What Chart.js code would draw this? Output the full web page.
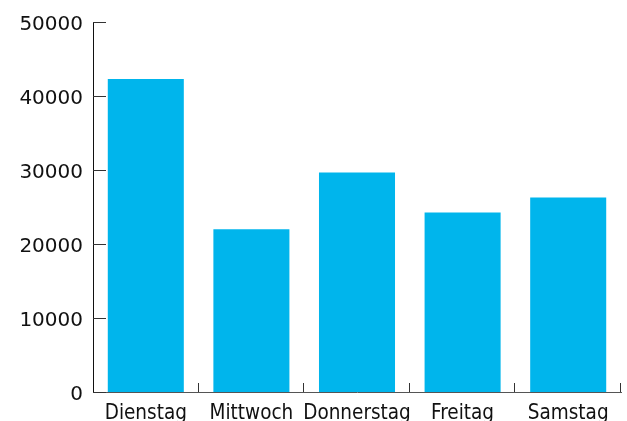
<!DOCTYPE html>
<html>
<head>
<meta charset="utf-8">
<script src="https://cdn.jsdelivr.net/npm/chart.js@4/dist/chart.umd.min.js"></script>
<style>
  html, body { margin: 0; padding: 0; background: #ffffff; overflow: hidden; }
  #wrap { width: 627px; height: 421px; overflow: hidden; }
  canvas { display: block; }
</style>
</head>
<body>
<div id="wrap"><canvas id="c" width="627" height="432"></canvas></div>
<script>
const categories = ["Dienstag", "Mittwoch", "Donnerstag", "Freitag", "Samstag"];
const values = [42300, 22000, 29650, 24250, 26300];
const yTicks = [0, 10000, 20000, 30000, 40000, 50000];

const innerTicks = {
  id: 'innerTicks',
  afterDraw(chart) {
    const ctx = chart.ctx;
    const x = chart.scales.x, y = chart.scales.y;
    ctx.save();
    ctx.lineWidth = 1;
    ctx.strokeStyle = '#333333';
    yTicks.forEach(v => {
      const py = Math.round(y.getPixelForValue(v)) + 0.5;
      ctx.beginPath();
      ctx.moveTo(x.left, py);
      ctx.lineTo(x.left + 13, py);
      ctx.stroke();
    });
    for (let i = 1; i <= categories.length; i++) {
      const px = Math.round(x.getPixelForValue(i - 0.5)) - 0.5;
      ctx.beginPath();
      ctx.moveTo(px, y.bottom);
      ctx.lineTo(px, y.bottom - 9);
      ctx.stroke();
    }
    ctx.restore();
  }
};

new Chart(document.getElementById('c'), {
  type: 'bar',
  data: {
    labels: categories,
    datasets: [{
      data: values,
      backgroundColor: '#00b5ec',
      borderWidth: 0,
      barPercentage: 0.72,
      categoryPercentage: 1.0
    }]
  },
  options: {
    responsive: false,
    devicePixelRatio: 1,
    animation: false,
    layout: { padding: { left: 0, right: 6, top: 21, bottom: 0 } },
    plugins: { legend: { display: false }, tooltip: { enabled: false } },
    scales: {
      x: {
        offset: true,
        grid: { display: false, drawTicks: false },
        border: { display: true, color: '#555555', width: 1 },
        ticks: { color: '#111111', font: { family: 'DejaVu Sans Condensed', size: 20.5 }, padding: 9, maxRotation: 0, autoSkip: false },
        afterFit(scale) { scale.height = 40; }
      },
      y: {
        min: 0, max: 50000,
        grid: { display: false, drawTicks: false },
        border: { display: true, color: '#111111', width: 1 },
        ticks: {
          stepSize: 10000,
          color: '#111111',
          font: { family: 'DejaVu Sans', size: 20 },
          padding: 10,
          labelOffset: 3,
          callback: v => String(v)
        },
        afterFit(scale) { scale.width = 93; }
      }
    }
  },
  plugins: [innerTicks]
});
</script>
</body>
</html>
